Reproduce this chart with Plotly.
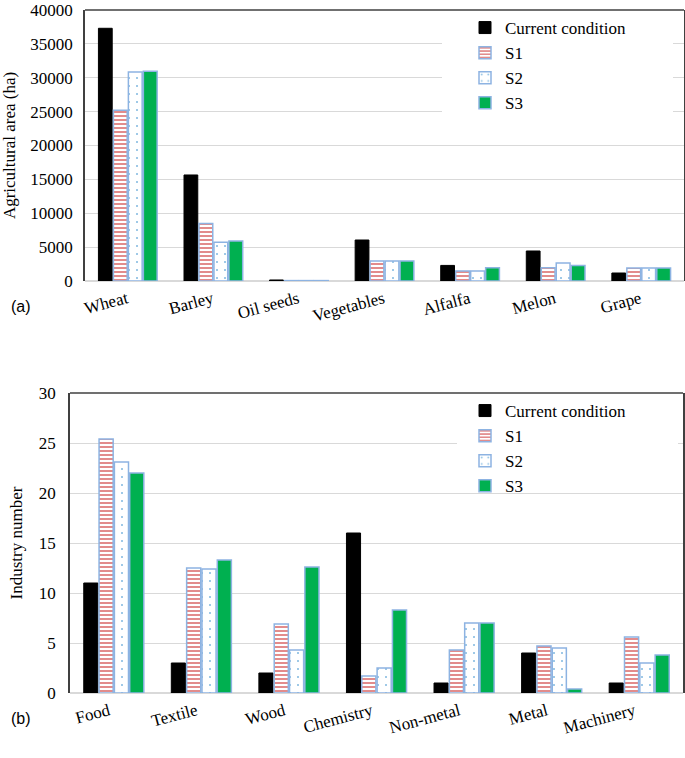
import plotly.graph_objects as go

W, H = 685, 758

crops = ["Wheat", "Barley", "Oil seeds", "Vegetables", "Alfalfa", "Melon", "Grape"]
crop_current = [37300, 15650, 150, 6050, 2300, 4430, 1180]
crop_s1 = [25200, 8500, 60, 2950, 1480, 1970, 1920]
crop_s2 = [30850, 5720, 60, 2950, 1480, 2650, 1920]
crop_s3 = [30950, 5900, 60, 2960, 1970, 2270, 1920]

industries = ["Food", "Textile", "Wood", "Chemistry", "Non-metal", "Metal", "Machinery"]
ind_current = [11, 3, 2, 16, 1, 4, 1]
ind_s1 = [25.4, 12.5, 6.9, 1.7, 4.3, 4.7, 5.6]
ind_s2 = [23.1, 12.4, 4.3, 2.5, 7.0, 4.5, 3.0]
ind_s3 = [22.0, 13.3, 12.6, 8.3, 7.0, 0.4, 3.8]

series_names = ["Current condition", "S1", "S2", "S3"]

SERIF = "Liberation Serif"
OUTLINE = "#8DB3E2"

def marker_style(i):
    if i == 0:
        return dict(color="black", line=dict(color="black", width=1))
    if i == 1:
        return dict(color="white", line=dict(color=OUTLINE, width=1.5),
                    pattern=dict(shape="-", fgcolor="#C00000", bgcolor="white",
                                 size=4, solidity=0.45))
    if i == 2:
        return dict(color="white", line=dict(color=OUTLINE, width=1.5),
                    pattern=dict(shape=".", fgcolor="#0070C0", bgcolor="white",
                                 size=8, solidity=0.05))
    return dict(color="#00B050", line=dict(color=OUTLINE, width=1.5))

fig = go.Figure()
for i, (name, vals) in enumerate(zip(series_names, [crop_current, crop_s1, crop_s2, crop_s3])):
    fig.add_trace(go.Bar(x=crops, y=vals, name=name, marker=marker_style(i),
                         xaxis="x", yaxis="y", legend="legend"))
for i, (name, vals) in enumerate(zip(series_names, [ind_current, ind_s1, ind_s2, ind_s3])):
    fig.add_trace(go.Bar(x=industries, y=vals, name=name, marker=marker_style(i),
                         xaxis="x2", yaxis="y2", legend="legend2"))

# screen pixel -> paper fraction
def px_x(p):
    return p / W

def px_y(p):
    return 1 - p / H

grid = "#D9D9D9"
frame = "#404040"
f17 = dict(family=SERIF, size=17, color="black")

fig.update_layout(
    width=W, height=H,
    margin=dict(l=0, r=0, t=0, b=0),
    paper_bgcolor="white", plot_bgcolor="white",
    barmode="group", bargap=0.3, bargroupgap=0.08,
    font=f17,
    xaxis=dict(domain=[px_x(85), px_x(684)], anchor="y", showline=False,
               range=[-0.5, 6.5],
               tickangle=-15, tickfont=f17, ticks="", automargin=False,
               ticklabelshift=-1, ticklabelstandoff=4),
    yaxis=dict(domain=[px_y(281), px_y(10)], anchor="x", range=[0, 40000],
               dtick=5000, tickformat="d", showgrid=True, gridcolor=grid, zeroline=True,
               zerolinecolor=grid, zerolinewidth=1.5, showline=True, mirror=True,
               linecolor=frame, linewidth=1.5, ticks="", tickfont=f17,
               ticklabelstandoff=7, ticklabeloverflow="allow",
               title=dict(text="Agricultural area (ha)", font=f17, standoff=18),
               automargin=False),
    xaxis2=dict(domain=[px_x(70), px_x(683)], anchor="y2", showline=False,
                range=[-0.5, 6.5],
                tickangle=-15, tickfont=f17, ticks="", automargin=False,
                ticklabelshift=-5, ticklabelstandoff=4),
    yaxis2=dict(domain=[px_y(693), px_y(393)], anchor="x2", range=[0, 30],
                dtick=5, showgrid=True, gridcolor=grid, zeroline=True,
                zerolinecolor=grid, zerolinewidth=1.5, showline=True, mirror=True,
                linecolor=frame, linewidth=1.5, ticks="", tickfont=f17,
                ticklabelstandoff=9, ticklabeloverflow="allow",
                title=dict(text="Industry number", font=f17, standoff=12),
                automargin=False),
    legend=dict(x=px_x(465), y=px_y(10), xanchor="left", yanchor="top",
                bgcolor="rgba(0,0,0,0)", font=f17, itemwidth=30, tracegroupgap=0),
    legend2=dict(x=px_x(465), y=px_y(393), xanchor="left", yanchor="top",
                 bgcolor="rgba(0,0,0,0)", font=f17, itemwidth=30, tracegroupgap=0),
    showlegend=True,
)

# top frame lines
for xr, yr in [("x domain", "y domain"), ("x2 domain", "y2 domain")]:
    fig.add_shape(type="line", xref=xr, yref=yr, x0=0, x1=1, y0=1, y1=1,
                  line=dict(color=frame, width=1.5))

# white legend backgrounds hiding gridlines (positions in axis units)
def ax_x(p, left, width):
    return (p - left) / width * 7 - 0.5

fig.add_shape(type="rect", xref="x", yref="y", layer="between",
              x0=ax_x(442, 85, 599), x1=ax_x(673, 85, 599),
              y0=24500, y1=39500,
              fillcolor="white", line=dict(width=0))
fig.add_shape(type="rect", xref="x2", yref="y2", layer="between",
              x0=ax_x(457, 70, 613), x1=ax_x(678, 70, 613),
              y0=20.5, y1=29.7,
              fillcolor="white", line=dict(width=0))

fig.add_annotation(text="(a)", x=px_x(9), y=px_y(306), xref="paper", yref="paper",
                   xanchor="left", yanchor="middle", showarrow=False,
                   font=dict(family="Liberation Sans", size=16, color="black"))
fig.add_annotation(text="(b)", x=px_x(9), y=px_y(718), xref="paper", yref="paper",
                   xanchor="left", yanchor="middle", showarrow=False,
                   font=dict(family="Liberation Sans", size=16, color="black"))

fig.write_html("out.html", config={"displayModeBar": False},
               post_script="document.body.style.margin='0';")
